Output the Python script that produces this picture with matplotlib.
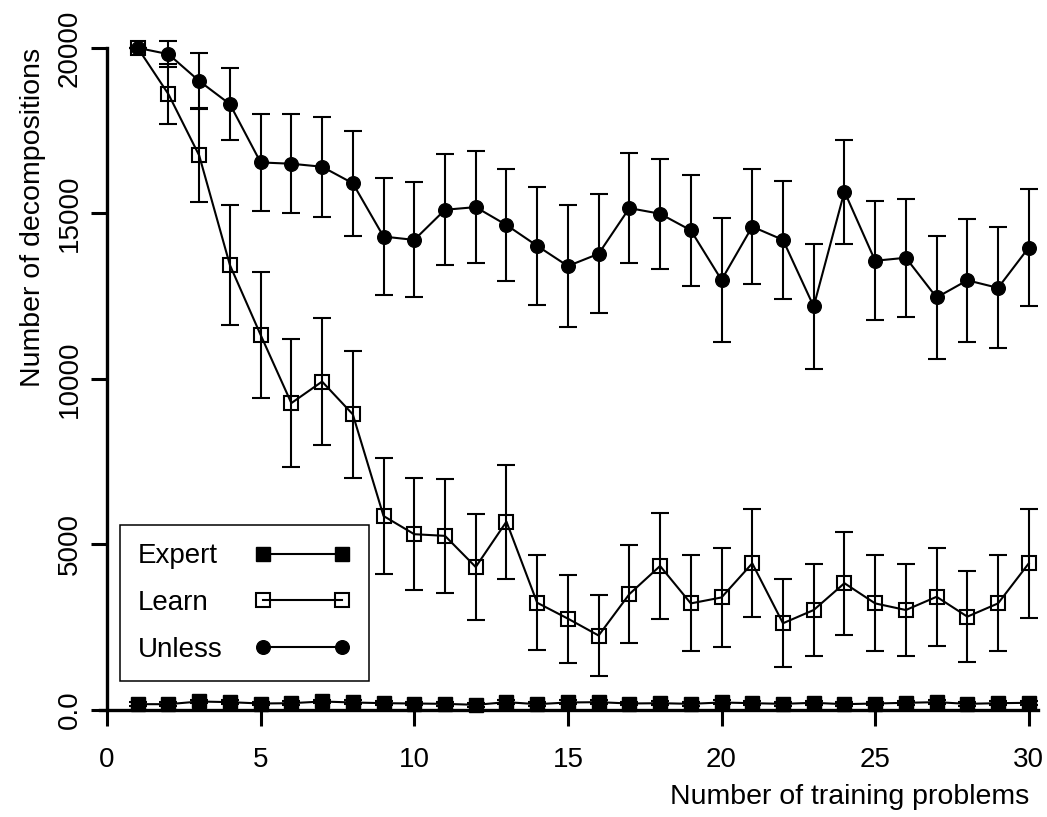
import numpy as np
import matplotlib
matplotlib.use("Agg")
import matplotlib.pyplot as plt

plt.rcParams['font.family'] = ['Liberation Sans', 'DejaVu Sans']

# values
problems = list(range(1, 31))

expert_mean = [176, 176, 257, 237, 196, 206, 257, 227, 206, 196, 186, 156, 237, 176, 227,
               237, 196, 206, 186, 227, 206, 186, 217, 176, 196, 217, 237, 186, 206, 217]
expert_err = [60] * 30

learn_mean = [20000, 18600, 16750, 13440, 11330, 9270, 9920, 8930, 5860, 5310, 5260, 4320,
              5690, 3240, 2760, 2250, 3500, 4350, 3220, 3400, 4430, 2620, 3020, 3830, 3220,
              3020, 3420, 2820, 3220, 4430]
learn_err = [0, 900, 1420, 1810, 1910, 1930, 1920, 1910, 1760, 1700, 1720, 1600, 1720, 1440,
             1330, 1230, 1480, 1610, 1450, 1490, 1630, 1330, 1400, 1550, 1450, 1400, 1480,
             1370, 1450, 1640]

unless_mean = [20000, 19810, 19000, 18300, 16540, 16500, 16410, 15910, 14300, 14200, 15110,
               15190, 14650, 14020, 13410, 13780, 15160, 14990, 14490, 12990, 14600, 14200,
               12190, 15660, 13570, 13660, 12460, 12980, 12750, 13970]
unless_err = [0, 385, 850, 1080, 1470, 1490, 1510, 1580, 1760, 1740, 1680, 1690, 1690, 1780,
              1830, 1800, 1670, 1660, 1670, 1880, 1740, 1790, 1890, 1570, 1790, 1780, 1860,
              1860, 1830, 1770]

x_ticks = [0, 5, 10, 15, 20, 25, 30]
y_ticks = [0, 5000, 10000, 15000, 20000]
y_tick_labels = ['0.0', '5000', '10000', '15000', '20000']

W, H = 1047, 817
fig = plt.figure(figsize=(W / 100, H / 100), dpi=100)
# axes placed in pixel terms: x from 100 to 1038, y from 30 to 710
ax = fig.add_axes([100 / W, 1 - 710 / H, 938 / W, 680 / H])

common = dict(color='black', lw=1.5, elinewidth=1.5, capsize=6.8, capthick=1.5,
              clip_on=False)

e_exp = ax.errorbar(problems, expert_mean, yerr=expert_err, fmt='-s', ms=10,
                    mfc='black', mec='black', **common)
e_learn = ax.errorbar(problems, learn_mean, yerr=learn_err, fmt='-s', ms=9.4,
                      mfc='none', mec='black', mew=1.5, **common)
e_unl = ax.errorbar(problems, unless_mean, yerr=unless_err, fmt='-o', ms=9.8,
                    mfc='black', mec='black', **common)

ax.set_xlim(-0.228, 30.30)
ax.set_ylim(0, 20540)

for side in ['top', 'right']:
    ax.spines[side].set_visible(False)
ax.spines['left'].set_position(('data', 0))
ax.spines['left'].set_bounds(0, 20000)
ax.spines['left'].set_linewidth(2.4)
ax.spines['bottom'].set_linewidth(2.4)

ax.set_xticks(x_ticks)
ax.set_yticks(y_ticks, y_tick_labels)
ax.tick_params(axis='both', direction='out', length=11.5, width=2.2, labelsize=20,
               color='black')
ax.tick_params(axis='x', pad=15)
ax.tick_params(axis='y', pad=6)
for lab in ax.get_yticklabels():
    lab.set_rotation(90)
    lab.set_va('center')

fig.text(33 / W, 1 - 48 / H, 'Number of decompositions', rotation=90, ha='center',
         va='top', fontsize=20.5)
fig.text(1029 / W, 1 - 797 / H, 'Number of training problems', ha='right',
         va='center', fontsize=20.5)

leg = ax.legend([e_exp[0], e_learn[0], e_unl[0]], ['Expert', 'Learn', 'Unless'],
                loc='lower left', bbox_to_anchor=(0.0213, 0.0426), borderaxespad=0,
                markerfirst=False, numpoints=2, fontsize=20, fancybox=False,
                edgecolor='black', framealpha=1, borderpad=0.65, handletextpad=1.15,
                handlelength=3.45, labelspacing=0.75)
leg.get_frame().set_linewidth(1.1)

# labels left aligned like the original: widen the gap after shorter labels
fig.canvas.draw()
rend = fig.canvas.get_renderer()
widths = [t.get_window_extent(rend).width for t in leg.get_texts()]
wmax = max(widths)
for col in leg._legend_handle_box.get_children():
    for row in col.get_children():
        txt = row.get_children()[0]._text
        w = txt.get_window_extent(rend).width
        row.sep = row.sep + (wmax - w) * 72 / fig.dpi
    col.align = 'left'

fig.savefig('out.png', dpi=100)
